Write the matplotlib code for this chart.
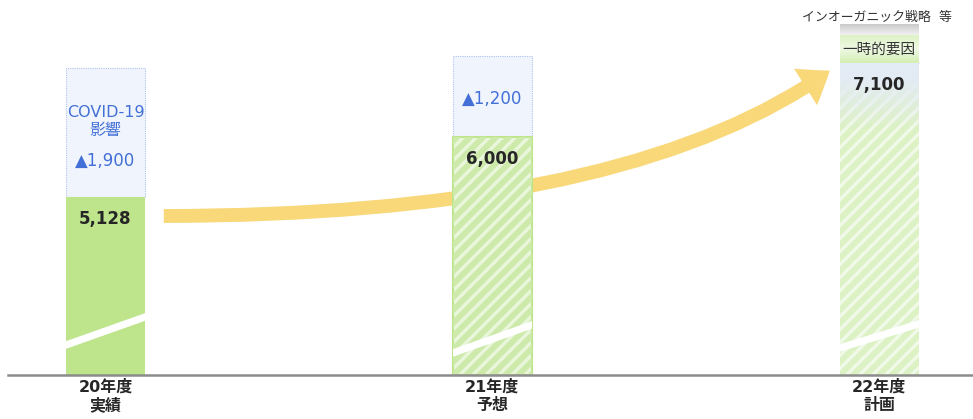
import numpy as np
import matplotlib
matplotlib.use("Agg")
import matplotlib.pyplot as plt
from matplotlib.patches import FancyArrowPatch
from matplotlib.colors import to_rgb

plt.rcParams['font.family'] = ['DejaVu Sans', 'Noto Sans CJK JP']

# 売上推移（億円）
years = ['20年度\n実績', '21年度\n予想', '22年度\n計画']
sales = [5128, 6000, 7100]
covid_impact = [1900, 1200, 0]
covid_labels = ['▲1,900', '▲1,200', '']
temp_factors = 400      # 一時的要因
inorganic = 150         # インオーガニック戦略 等
axis_base = 2500        # 省略した軸の下端

W, H = 973, 419
fig = plt.figure(figsize=(W / 100, H / 100), dpi=100)
ax = fig.add_axes([0, 44 / H, 1, 375 / H])

# pixel -> data helpers for the decorations
sx = 386.75     # px per category
sy = 0.0679     # px per unit
def px_x(px):
    return (px - 105.5) / sx
def px_y(py):
    return axis_base + (375 - py) / sy

ax.set_xlim(px_x(0), px_x(W))
ax.set_ylim(axis_base, px_y(0))
ax.axis('off')

x = np.arange(len(years))
bw = 79 / sx
heights = np.array(sales) - axis_base

green = '#BEE48C'
hatch_fill = '#E9F6DC'
hatch_line = '#CDEAAA'

# COVID impact boxes on top
boxes = ax.bar(x, covid_impact, width=bw, bottom=sales, color='#F0F4FD',
               edgecolor='#AFC3EE', linewidth=0.8, linestyle=(0, (1, 1)), zorder=3)

# main bars (axis is cut at axis_base)
bars = ax.bar(x, heights, width=bw, bottom=axis_base,
              color=[green, hatch_fill, '#F1F9E8'],
              edgecolor=['none', green, 'none'], linewidth=1.5, zorder=3)

# diagonal stripes on the forecast / plan bars
for i, stripe_col in [(1, hatch_line), (2, '#DCF1C4')]:
    cx = 105.5 + i * sx
    for k in np.arange(-400, 400, 13):
        x0 = cx - 60 + k
        xs = np.array([x0, x0 + 400])
        ys = np.array([380, 380 - 400])
        ln, = ax.plot(px_x(xs), px_y(ys), color=stripe_col, lw=4.2,
                      solid_capstyle='butt', zorder=3.5)
        ln.set_clip_path(bars[i])

# plan bar: blue-grey fade from the top
cx3 = 105.5 + 2 * sx
grad = np.zeros((100, 1, 4))
grad[..., :3] = to_rgb('#E3EBF5')
grad[:, 0, 3] = np.clip(np.linspace(1.3, -0.2, 100), 0, 1)
ax.imshow(grad, extent=(px_x(cx3 - 39.5), px_x(cx3 + 39.5), px_y(140), sales[2]),
          aspect='auto', zorder=3.8, interpolation='bilinear')

# 一時的要因 band
g_top = sales[2] + temp_factors
band = np.zeros((50, 1, 3))
t = np.linspace(0, 1, 50)[:, None]
lo, mid = np.array(to_rgb('#D3EFB2')), np.array(to_rgb('#EEF8E4'))
band[:, 0, :] = np.where(t < 0.5, mid + (lo - mid) * (0.5 - t) * 1.2,
                         mid + (lo - mid) * (t - 0.5) * 2)
ax.imshow(band, extent=(px_x(cx3 - 39.5), px_x(cx3 + 39.5), sales[2], g_top),
          aspect='auto', zorder=3.8, origin='upper', interpolation='bilinear')

# インオーガニック band
c0, c1 = np.array(to_rgb('#CACACA')), np.array(to_rgb('#F2F2F2'))
gray = np.zeros((50, 1, 3))
gray[:, 0, :] = c0 + (c1 - c0) * t
ax.imshow(gray, extent=(px_x(cx3 - 39.5), px_x(cx3 + 39.5), g_top, g_top + inorganic),
          aspect='auto', zorder=3.8, origin='upper', interpolation='bilinear')

# axis break marks
breaks = [(345, 317), (353, 325), (348, 324)]
for i, (yl, yr) in enumerate(breaks):
    cx = 105.5 + i * sx
    s = (yl - yr) / 79
    ln, = ax.plot([px_x(cx - 45), px_x(cx + 45)],
                  [px_y(yl + 5.5 * s), px_y(yr - 5.5 * s)],
                  color='white', lw=5.2, solid_capstyle='butt', zorder=4)
    ln.set_clip_path(bars[i])

# baseline
ax.axhline(axis_base, xmin=8 / W, xmax=1, color='#8C8C8C', lw=1.8, zorder=5, clip_on=False)

# growth arrow
arrow = FancyArrowPatch((px_x(161), px_y(216)), (px_x(832), px_y(69)),
                        connectionstyle='angle3,angleA=0,angleB=36',
                        arrowstyle='simple,head_width=31,head_length=21,tail_width=10',
                        mutation_scale=1, color='#F8D878', lw=0, zorder=2)
ax.add_patch(arrow)

# value labels
for i, v in enumerate(sales):
    ax.text(x[i], v - 22 / sy, f'{v:,}', ha='center', va='center',
            fontsize=12, fontweight='bold', color='#262626', zorder=6)

blue = '#4270D6'
ax.text(x[0], sales[0] + covid_impact[0] - 54 / sy, 'COVID-19\n影響', ha='center', va='center',
        fontsize=11.5, color=blue, linespacing=1.2, zorder=6)
for i in range(2):
    off = 36 if i == 0 else 38
    ax.text(x[i], sales[i] + off / sy, covid_labels[i], ha='center', va='center',
            fontsize=12, color=blue, zorder=6)

ax.text(x[2], (sales[2] + g_top) / 2, '一時的要因', ha='center', va='center',
        fontsize=10.5, color='#333333', zorder=6)
ax.text(px_x(877), px_y(17), 'インオーガニック戦略  等', ha='center', va='center',
        fontsize=9.3, color='#333333', zorder=6)

# category labels
for i, lab in enumerate(years):
    ax.text(x[i], px_y(396), lab, ha='center', va='center', fontsize=11.5,
            fontweight='bold', color='#262626', linespacing=1.25, clip_on=False)

fig.savefig('out.png', dpi=100)
